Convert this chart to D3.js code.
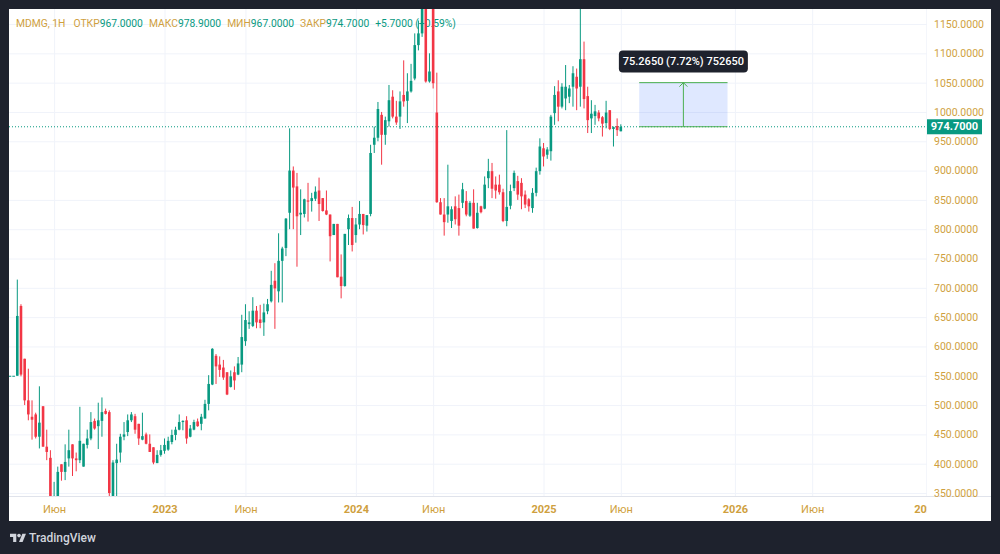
<!DOCTYPE html>
<html>
<head>
<meta charset="utf-8">
<script src="https://cdn.jsdelivr.net/npm/d3@7"></script>
<style>
  html, body { margin: 0; padding: 0; background: #1e222d; }
  svg { display: block; font-family: Roboto, "Liberation Sans", sans-serif; }
</style>
</head>
<body>
<svg id="chart" width="1000" height="554"></svg>
<script>
// MDMG weekly candles. Bars -2 and -1 are the flat
// pre-halt bars at the left edge; bar 0 is the first week after trading resumed.
const firstBar = -2;
const opens = [550, 550,
  550, 669, 579, 508, 480, 484, 446, 498, 429, 410,
  330, 344, 399, 386, 409, 433, 409, 406, 395, 432,
  443, 473, 464, 473, 490, 488, 338, 401, 419, 446,
  454, 474, 481, 468, 441, 450, 434, 428, 401, 415,
  422, 424, 437, 449, 458, 471, 474, 446, 458, 472,
  468, 477, 502, 535, 584, 569, 564, 556, 531, 556,
  552, 569, 609, 638, 635, 661, 646, 641, 660, 677,
  712, 694, 746, 768, 828, 900, 873, 825, 826, 849,
  848, 852, 866, 853, 832, 825, 790, 809, 719, 703,
  800, 819, 790, 808, 826, 806, 826, 944, 956, 995,
  961, 984, 1026, 992, 992, 1029, 1019, 1035, 1057, 1114,
  1134, 1200, 1052, 1190, 999, 846, 825, 825, 814, 839,
  836, 845, 848, 823, 845, 802, 839, 835, 887, 899,
  876, 876, 863, 814, 840, 870, 882, 879, 859, 851,
  836, 862, 899, 938, 927, 933, 998, 1035, 1009, 1023,
  1026, 1043, 1060, 1043, 1090, 1027, 989, 993, 999, 991,
  981, 1003, 971, 976, 967];
const highs = [550, 550,
  714, 672, 579, 562, 508, 487, 532, 498, 458, 423,
  369, 395, 399, 433, 458, 433, 419, 497, 434, 458,
  488, 477, 504, 513, 494, 491, 406, 434, 451, 471,
  484, 488, 485, 468, 487, 453, 450, 428, 423, 432,
  443, 446, 458, 463, 484, 474, 481, 466, 475, 477,
  485, 509, 551, 597, 587, 583, 577, 556, 559, 566,
  582, 654, 672, 660, 684, 669, 671, 673, 681, 729,
  742, 793, 770, 819, 972, 907, 896, 868, 852, 879,
  862, 873, 888, 853, 866, 825, 809, 809, 757, 792,
  825, 838, 819, 848, 826, 824, 944, 975, 1017, 1000,
  992, 1046, 1037, 1019, 1035, 1088, 1066, 1082, 1134, 1156,
  1215, 1230, 1100, 1240, 1067, 853, 853, 910, 839, 856,
  859, 879, 865, 848, 868, 845, 840, 890, 920, 913,
  890, 893, 869, 969, 876, 900, 891, 887, 866, 853,
  870, 905, 955, 947, 940, 995, 1044, 1054, 1049, 1080,
  1046, 1078, 1074, 1185, 1120, 1043, 1020, 1012, 1003, 993,
  1019, 1003, 975, 989, 978.9];
const lows = [550, 550,
  550, 549, 500, 474, 441, 443, 426, 429, 406, 318,
  315, 340, 371, 372, 395, 379, 387, 401, 395, 426,
  440, 458, 425, 446, 484, 335, 330, 338, 402, 440,
  447, 471, 451, 432, 440, 433, 420, 399, 401, 412,
  417, 422, 433, 440, 457, 457, 434, 445, 457, 463,
  457, 477, 491, 534, 536, 548, 543, 517, 530, 526,
  551, 556, 601, 630, 633, 631, 631, 618, 655, 675,
  630, 675, 675, 754, 800, 800, 736, 790, 820, 813,
  830, 848, 814, 830, 824, 745, 790, 718, 682, 702,
  773, 762, 777, 800, 791, 796, 822, 930, 950, 910,
  944, 975, 989, 978, 971, 1009, 981, 1033, 1054, 1105,
  1128, 1050, 1050, 1040, 845, 825, 789, 811, 802, 808,
  789, 836, 822, 821, 801, 801, 827, 834, 870, 853,
  852, 859, 812, 805, 834, 865, 850, 834, 836, 830,
  828, 856, 893, 907, 920, 917, 978, 984, 1006, 1003,
  1015, 1009, 1003, 1009, 1006, 964, 964, 978, 984, 958,
  972, 969, 941, 959, 967];
const closes = [550, 550,
  652, 552, 508, 484, 475, 446, 470, 429, 420, 335,
  345, 386, 386, 403, 423, 409, 406, 439, 434, 443,
  471, 460, 474, 488, 485, 350, 402, 407, 446, 450,
  474, 484, 458, 443, 447, 434, 420, 402, 415, 423,
  432, 439, 449, 458, 471, 473, 443, 460, 471, 464,
  480, 502, 536, 596, 566, 560, 547, 518, 549, 542,
  571, 616, 645, 641, 661, 641, 640, 658, 672, 705,
  699, 746, 767, 818, 900, 871, 822, 828, 851, 847,
  853, 864, 843, 831, 825, 788, 809, 718, 703, 792,
  819, 773, 808, 826, 807, 824, 930, 956, 1005, 961,
  986, 1020, 992, 982, 1018, 1018, 1035, 1053, 1114, 1134,
  1190, 1052, 1069, 1049, 846, 825, 812, 839, 834, 817,
  806, 868, 825, 845, 801, 828, 829, 876, 899, 869,
  866, 863, 814, 838, 865, 896, 859, 856, 842, 839,
  862, 899, 941, 924, 936, 992, 1029, 1009, 1043, 1043,
  1040, 1066, 1040, 1090, 1022, 986, 997, 1001, 989, 980,
  999, 971, 974, 969, 974.7];

const priceTicks = d3.range(350, 1151, 50);
// bar index of the first bar in each labelled month (future bars projected)
const timeTickBars = [10, 40, 62, 92, 113, 143, 164, 195, 216, 247];
const timeTickLabels = ["Июн", "2023", "Июн", "2024", "Июн", "2025", "Июн", "2026", "Июн", "2027"];

const lastPrice = 974.7;

// price range drawing
const rangeBars = [169, 193];
const rangePrices = [974.735, 1050];
const rangeLabel = "75.2650 (7.72%) 752650";

// legend: text, value or label, gap before it
const legendParts = ["MDMG, 1H", "ОТКР", "967.0000", "МАКС", "978.9000", "МИН", "967.0000", "ЗАКР", "974.7000", "+5.7000 (+0.59%)"];
const legendIsValue = [false, false, true, false, true, false, true, false, true, true];
const legendGap = [0, 8, 0, 6, 0, 6, 0, 6, 0, 6];

// ---------------------------------------------------------------------------
const GREEN = "#089981", RED = "#f23645", GOLD = "#cf9f3e";
const GRID = "#f0f3fa";
const plot = { left: 9, right: 927, top: 9, bottom: 496 };

const svg = d3.select("#chart");

svg.append("rect").attr("x", 9).attr("y", 9).attr("width", 982).attr("height", 512)
  .attr("fill", "#ffffff");

const defs = svg.append("defs");
defs.append("clipPath").attr("id", "plotClip").append("rect")
  .attr("x", plot.left).attr("y", plot.top)
  .attr("width", plot.right - plot.left).attr("height", plot.bottom - plot.top);
defs.append("clipPath").attr("id", "timeClip").append("rect")
  .attr("x", plot.left).attr("y", plot.bottom)
  .attr("width", plot.right - plot.left).attr("height", 25);

const x = d3.scaleLinear().domain([0, 100]).range([17.3, 385.3]);
const y = d3.scaleLinear().domain([350, 1150]).range([493, 24]);

// grid
const grid = svg.append("g").attr("clip-path", "url(#plotClip)");
grid.append("g").attr("transform", `translate(${plot.left},0)`)
  .call(d3.axisRight(y).tickValues(priceTicks).tickSize(plot.right - plot.left).tickFormat(""))
  .call(g => g.select(".domain").remove())
  .selectAll("line").attr("stroke", GRID);
grid.append("g").attr("transform", `translate(0,${plot.top})`)
  .call(d3.axisBottom(x).tickValues(timeTickBars).tickSize(plot.bottom - plot.top).tickFormat(""))
  .call(g => g.select(".domain").remove())
  .selectAll("line").attr("stroke", GRID);

// separator between plot and time scale
svg.append("line").attr("x1", 9).attr("x2", 991)
  .attr("y1", plot.bottom + 0.5).attr("y2", plot.bottom + 0.5)
  .attr("stroke", "#e0e3eb");

// legend (drawn under the candles, as in the screenshot)
const leg = svg.append("text").attr("x", 16).attr("y", 26.5).style("font-size", "10.3px");
legendParts.forEach((t, k) => {
  leg.append("tspan").attr("dx", legendGap[k])
    .attr("fill", legendIsValue[k] ? GREEN : GOLD).text(t);
});

// last price dotted line
const body = svg.append("g").attr("clip-path", "url(#plotClip)");
body.append("line")
  .attr("x1", plot.left).attr("x2", plot.right)
  .attr("y1", y(lastPrice)).attr("y2", y(lastPrice))
  .attr("stroke", GREEN).attr("stroke-dasharray", "1,2");

// candles
const bars = opens.map((o, k) => ({
  i: k + firstBar, o, h: highs[k], l: lows[k], c: closes[k]
}));
const colorOf = d => d.c >= d.o ? GREEN : RED;
const bw = 2.6;

body.append("g").selectAll("line").data(bars).join("line")
  .attr("x1", d => x(d.i)).attr("x2", d => x(d.i))
  .attr("y1", d => y(d.h)).attr("y2", d => y(d.l))
  .attr("stroke", colorOf).attr("stroke-width", 1);
body.append("g").selectAll("rect").data(bars).join("rect")
  .attr("x", d => x(d.i) - bw / 2).attr("width", bw)
  .attr("y", d => y(Math.max(d.o, d.c)))
  .attr("height", d => Math.max(1, Math.abs(y(d.o) - y(d.c))))
  .attr("fill", colorOf);

// price range tool
const rx0 = x(rangeBars[0]), rx1 = x(rangeBars[1]), rxm = (rx0 + rx1) / 2;
const ry0 = y(rangePrices[0]), ry1 = y(rangePrices[1]);
body.append("rect").attr("x", rx0).attr("y", ry1)
  .attr("width", rx1 - rx0).attr("height", ry0 - ry1)
  .attr("fill", "rgba(41,98,255,0.15)");
body.selectAll("line.edge").data([ry0, ry1]).join("line").attr("class", "edge")
  .attr("x1", rx0).attr("x2", rx1).attr("y1", d => d).attr("y2", d => d)
  .attr("stroke", "#4caf50");
body.append("line").attr("x1", rxm).attr("x2", rxm).attr("y1", ry0).attr("y2", ry1)
  .attr("stroke", "#4caf50");
body.append("path")
  .attr("d", `M${rxm - 4},${ry1 + 4}L${rxm},${ry1}L${rxm + 4},${ry1 + 4}`)
  .attr("fill", "none").attr("stroke", "#4caf50");

// range label bubble
svg.append("rect").attr("x", rxm - 64.5).attr("y", 50.5).attr("width", 129).attr("height", 22)
  .attr("rx", 4).attr("fill", "#1e222d");
svg.append("text").attr("x", rxm).attr("y", 61.5)
  .attr("text-anchor", "middle").attr("dominant-baseline", "central")
  .attr("fill", "#ffffff").style("font-size", "11px").style("font-weight", 500)
  .text(rangeLabel);

// price scale
svg.append("g").attr("transform", `translate(${plot.right},0)`)
  .call(d3.axisRight(y).tickValues(priceTicks).tickFormat(d3.format(".4f")).tickSize(0).tickPadding(7))
  .call(g => g.select(".domain").remove())
  .selectAll("text").attr("fill", GOLD).style("font-size", "10.5px")
  .style("font-family", "Roboto, sans-serif");

// last price label
svg.append("rect").attr("x", plot.right).attr("y", y(lastPrice) - 7.5)
  .attr("width", 55).attr("height", 15).attr("fill", GREEN);
svg.append("text").attr("x", plot.right + 27.5).attr("y", y(lastPrice))
  .attr("text-anchor", "middle").attr("dominant-baseline", "central")
  .attr("fill", "#ffffff").style("font-size", "11px").style("font-weight", 700)
  .text(d3.format(".4f")(lastPrice));

// time scale
svg.append("g").attr("clip-path", "url(#timeClip)").append("g")
  .attr("transform", `translate(0,${plot.bottom})`)
  .call(d3.axisBottom(x).tickValues(timeTickBars)
    .tickFormat((d, k) => timeTickLabels[k]).tickSize(0).tickPadding(9))
  .call(g => g.select(".domain").remove())
  .selectAll("text").attr("fill", GOLD)
  .style("font-size", "11px").style("font-family", "Roboto, sans-serif")
  .style("font-weight", (d, k) => /^\d/.test(timeTickLabels[k]) ? 700 : 400);

// watermark
const logo = svg.append("g").attr("transform", "translate(10,532) scale(0.45)").attr("fill", "#d1d4dc");
logo.append("path").attr("d", "M14 22H7V11H0V4h14v18z");
logo.append("circle").attr("cx", 20).attr("cy", 8).attr("r", 4);
logo.append("path").attr("d", "M28 22h-8l7.5-18h8z");
svg.append("text").attr("x", 29).attr("y", 542)
  .attr("fill", "#d1d4dc").style("font-size", "12px").style("font-weight", 500)
  .text("TradingView");
</script>
</body>
</html>
